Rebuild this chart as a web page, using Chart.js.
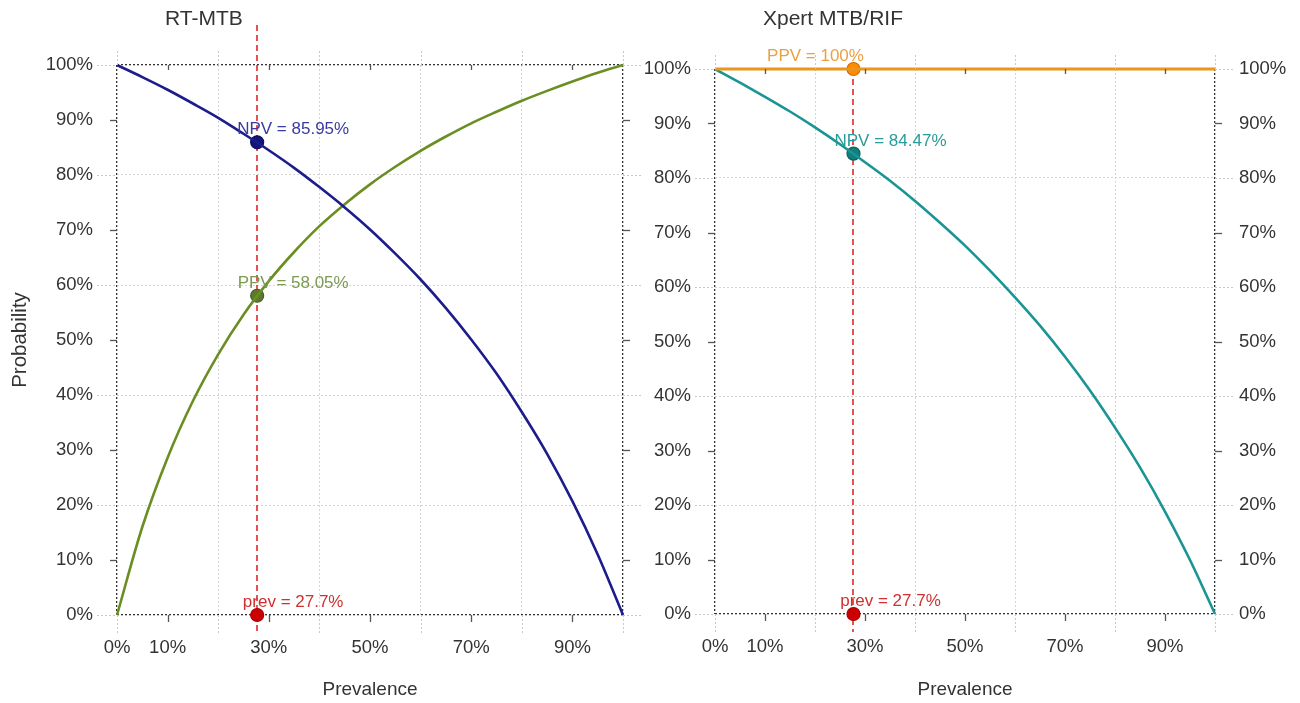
<!DOCTYPE html>
<html><head><meta charset="utf-8">
<script src="https://cdn.jsdelivr.net/npm/chart.js@4.4.1/dist/chart.umd.min.js"></script>
<style>
html,body{margin:0;padding:0;background:#fff;}
#wrap{position:relative;width:1300px;height:703px;overflow:hidden;}
.pane{position:absolute;top:0;height:703px;}
</style></head><body>
<div id="wrap">
<div class="pane" style="left:0;width:650px"><canvas id="c1" width="650" height="703"></canvas></div>
<div class="pane" style="left:620px;width:680px"><canvas id="c2" width="680" height="703"></canvas></div>
</div>
<script>
// ---------- data ----------
const prevalence = [0,5,10,15,20,25,30,35,40,45,50,55,60,65,70,75,80,85,90,95,100];
const rtNPV  = [100,97.8,95.5,93.0,90.4,87.5,84.5,81.3,77.8,74.1,70.1,65.7,61.0,55.8,50.1,43.9,36.9,29.3,20.7,11.0,0];
const rtPPV  = [0,16.0,28.6,38.9,47.4,54.6,60.7,66.0,70.7,74.7,78.3,81.5,84.4,87.0,89.4,91.5,93.5,95.3,97.0,98.6,100];
const xpNPV  = [100,97.5,94.9,92.2,89.3,86.2,82.9,79.5,75.8,71.8,67.6,63.0,58.1,52.9,47.2,41.0,34.2,26.9,18.8,9.9,0];
const xpPPV  = [100,100,100,100,100,100,100,100,100,100,100,100,100,100,100,100,100,100,100,100,100];

const prevMarker = 27.7;
const rtMarkers  = {NPV: 85.95, PPV: 58.05, prev: 0};
const xpMarkers  = {NPV: 84.47, PPV: 100, prev: 0};

const xTickValues = [0,10,20,30,40,50,60,70,80,90,100];
const xTickLabels = ['0%','10%','','30%','','50%','','70%','','90%',''];
const yTickValues = [0,10,20,30,40,50,60,70,80,90,100];
const yTickLabels = ['0%','10%','20%','30%','40%','50%','60%','70%','80%','90%','100%'];

const panelTitles = ['RT-MTB','Xpert MTB/RIF'];
const xTitle = 'Prevalence';
const yTitle = 'Probability';

// ---------- styling ----------
const FONT = '"Liberation Sans", Arial, sans-serif';
const TXT = '#333333';
const toXY = (vals) => vals.map((v,i)=>({x:prevalence[i], y:v}));

const decor = {
  id:'decor',
  beforeDatasetsDraw(chart, args, o){
    const {ctx, chartArea:a, scales:{x}} = chart;
    const px = Math.round(x.getPixelForValue(prevMarker));
    ctx.save();
    ctx.strokeStyle = '#e02828'; ctx.lineWidth = 1.6; ctx.setLineDash([6,4]);
    ctx.beginPath(); ctx.moveTo(px, a.top - o.lineAbove); ctx.lineTo(px, a.bottom + 18); ctx.stroke();
    ctx.restore();
  },
  afterDatasetsDraw(chart, args, o){
    const {ctx, scales:{x,y}} = chart;
    ctx.save();
    ctx.font = '17px ' + FONT; ctx.textAlign = 'center'; ctx.textBaseline = 'middle';
    o.labels.forEach(l=>{
      ctx.fillStyle = l.color;
      ctx.fillText(l.text, x.getPixelForValue(prevMarker) + l.dx, y.getPixelForValue(l.value) - 12.5);
    });
    ctx.restore();
  },
  afterDraw(chart, args, o){
    const {ctx, chartArea:a, scales:{x,y}} = chart;
    ctx.save();
    const line = (x1,y1,x2,y2,even)=>{
      ctx.strokeStyle = even ? '#c8c8c8' : '#555';
      ctx.lineWidth = even ? 1 : 1.3;
      ctx.setLineDash(even ? [2,2] : []);
      ctx.beginPath(); ctx.moveTo(x1,y1); ctx.lineTo(x2,y2); ctx.stroke();
    };
    xTickValues.forEach(v=>{
      const p = Math.round(x.getPixelForValue(v)) + 0.5;
      const even = v % 20 === 0;
      if (even){ line(p, a.bottom, p, a.bottom + 20, true); line(p, a.top, p, a.top - 14, true); }
      else { line(p, a.bottom, p, a.bottom + 7, false); line(p, a.top, p, a.top + 5, false); }
    });
    yTickValues.forEach(v=>{
      const p = Math.round(y.getPixelForValue(v)) + 0.5;
      const even = v % 20 === 0;
      if (even){ line(a.left - 20, p, a.left, p, true); line(a.right, p, a.right + 18, p, true); }
      else { line(a.left - 7, p, a.left, p, false); line(a.right, p, a.right + 7, p, false); }
    });
    ctx.setLineDash([]);
    ctx.fillStyle = TXT;
    ctx.font = '21px ' + FONT; ctx.textAlign = 'left'; ctx.textBaseline = 'middle';
    ctx.fillText(o.title, a.left + 48, 19);
    ctx.font = '19px ' + FONT; ctx.textAlign = 'center';
    ctx.fillText(xTitle, (a.left + a.right)/2, 690);
    if (o.showYTitle){
      ctx.font = '20.5px ' + FONT;
      ctx.translate(20, (a.top + a.bottom)/2); ctx.rotate(-Math.PI/2);
      ctx.fillText(yTitle, 0, 0);
    }
    ctx.restore();
  }
};

function gridColor(v){ return (v===0||v===100) ? '#333' : (v % 20 === 0 ? '#d4d4d4' : 'rgba(0,0,0,0)'); }
function gridWidth(v){ return (v===0||v===100) ? 1.3 : 1; }

function yScale(position, showLabels, width, onArea){
  return {
    type:'linear', position, min:0, max:100,
    afterBuildTicks: s => { s.ticks = yTickValues.map(v=>({value:v})); },
    afterFit: s => { s.width = width; },
    border:{display:false, dash:[2,2]},
    grid:{ drawTicks:false, drawOnChartArea:onArea,
      color: c => gridColor(c.tick.value), lineWidth: c => gridWidth(c.tick.value) },
    ticks:{ display:showLabels, padding:24, color:TXT, font:{family:FONT, size:18.5},
      callback: v => yTickLabels[yTickValues.indexOf(v)] }
  };
}

function makeChart(id, cfg){
  const scales = {
    x:{ type:'linear', min:0, max:100,
      afterBuildTicks: s => { s.ticks = xTickValues.map(v=>({value:v})); },
      afterFit: s => { s.height = cfg.bottomH; },
      border:{display:false, dash:[2,2]},
      grid:{ drawTicks:false, color: c => gridColor(c.tick.value), lineWidth: c => gridWidth(c.tick.value) },
      ticks:{ autoSkip:false, maxRotation:0, padding:22, color:TXT, font:{family:FONT, size:18.5},
        callback: v => xTickLabels[xTickValues.indexOf(v)] }
    },
    y: yScale('left', true, cfg.leftW, true)
  };
  if (cfg.rightAxis) scales.y2 = yScale('right', true, cfg.rightW, false);
  return new Chart(document.getElementById(id), {
    type:'line',
    data:{ datasets: cfg.datasets },
    options:{
      responsive:false, animation:false,
      layout:{ padding:{ top:cfg.top, right: cfg.rightAxis ? 0 : cfg.rightW, left:0, bottom:0 } },
      scales,
      plugins:{ legend:{display:false}, tooltip:{enabled:false}, decor: cfg.decor }
    },
    plugins:[decor]
  });
}

const curve = (vals, color, w) => ({ data: toXY(vals), borderColor:color, borderWidth:w, clip:false,
  pointRadius:0, tension:0.4, cubicInterpolationMode:'monotone', fill:false });
const marker = (val, fill, stroke) => ({ data:[{x:prevMarker, y:val}], showLine:false, clip:false,
  pointRadius:6.5, pointBackgroundColor:fill, pointBorderColor:stroke, pointBorderWidth:1.2 });

makeChart('c1', {
  top:65, bottomH:88, leftW:117, rightW:27, rightAxis:false,
  datasets:[
    curve(rtNPV, '#1c1c8c', 2.6),
    curve(rtPPV, '#6b8e23', 2.6),
    marker(rtMarkers.NPV, '#14147a', '#0e0e60'),
    marker(rtMarkers.PPV, '#5b7a2e', '#44602a'),
    marker(rtMarkers.prev, '#cc0000', '#aa0000')
  ],
  decor:{ title: panelTitles[0], showYTitle:true, lineAbove:40,
    labels:[
      {text:'NPV = ' + rtMarkers.NPV + '%', value:rtMarkers.NPV, dx:36, color:'#3a3aa2'},
      {text:'PPV = ' + rtMarkers.PPV + '%', value:rtMarkers.PPV, dx:36, color:'#7c9a52'},
      {text:'prev = ' + prevMarker + '%', value:rtMarkers.prev, dx:36, color:'#d03030'}
    ]}
});

makeChart('c2', {
  top:69, bottomH:89, leftW:95, rightW:85, rightAxis:true,
  datasets:[
    curve(xpPPV, '#e8961e', 3.2),
    curve(xpNPV, '#1a9494', 2.6),
    marker(xpMarkers.PPV, '#ff8c00', '#d06a00'),
    marker(xpMarkers.NPV, '#127e7e', '#0b6262'),
    marker(xpMarkers.prev, '#cc0000', '#aa0000')
  ],
  decor:{ title: panelTitles[1], showYTitle:false, lineAbove:0,
    labels:[
      {text:'PPV = ' + xpMarkers.PPV + '%', value:xpMarkers.PPV, dx:-38, color:'#eba043'},
      {text:'NPV = ' + xpMarkers.NPV + '%', value:xpMarkers.NPV, dx:37, color:'#2a9a9a'},
      {text:'prev = ' + prevMarker + '%', value:xpMarkers.prev, dx:37, color:'#d03030'}
    ]}
});
</script>
</body></html>
